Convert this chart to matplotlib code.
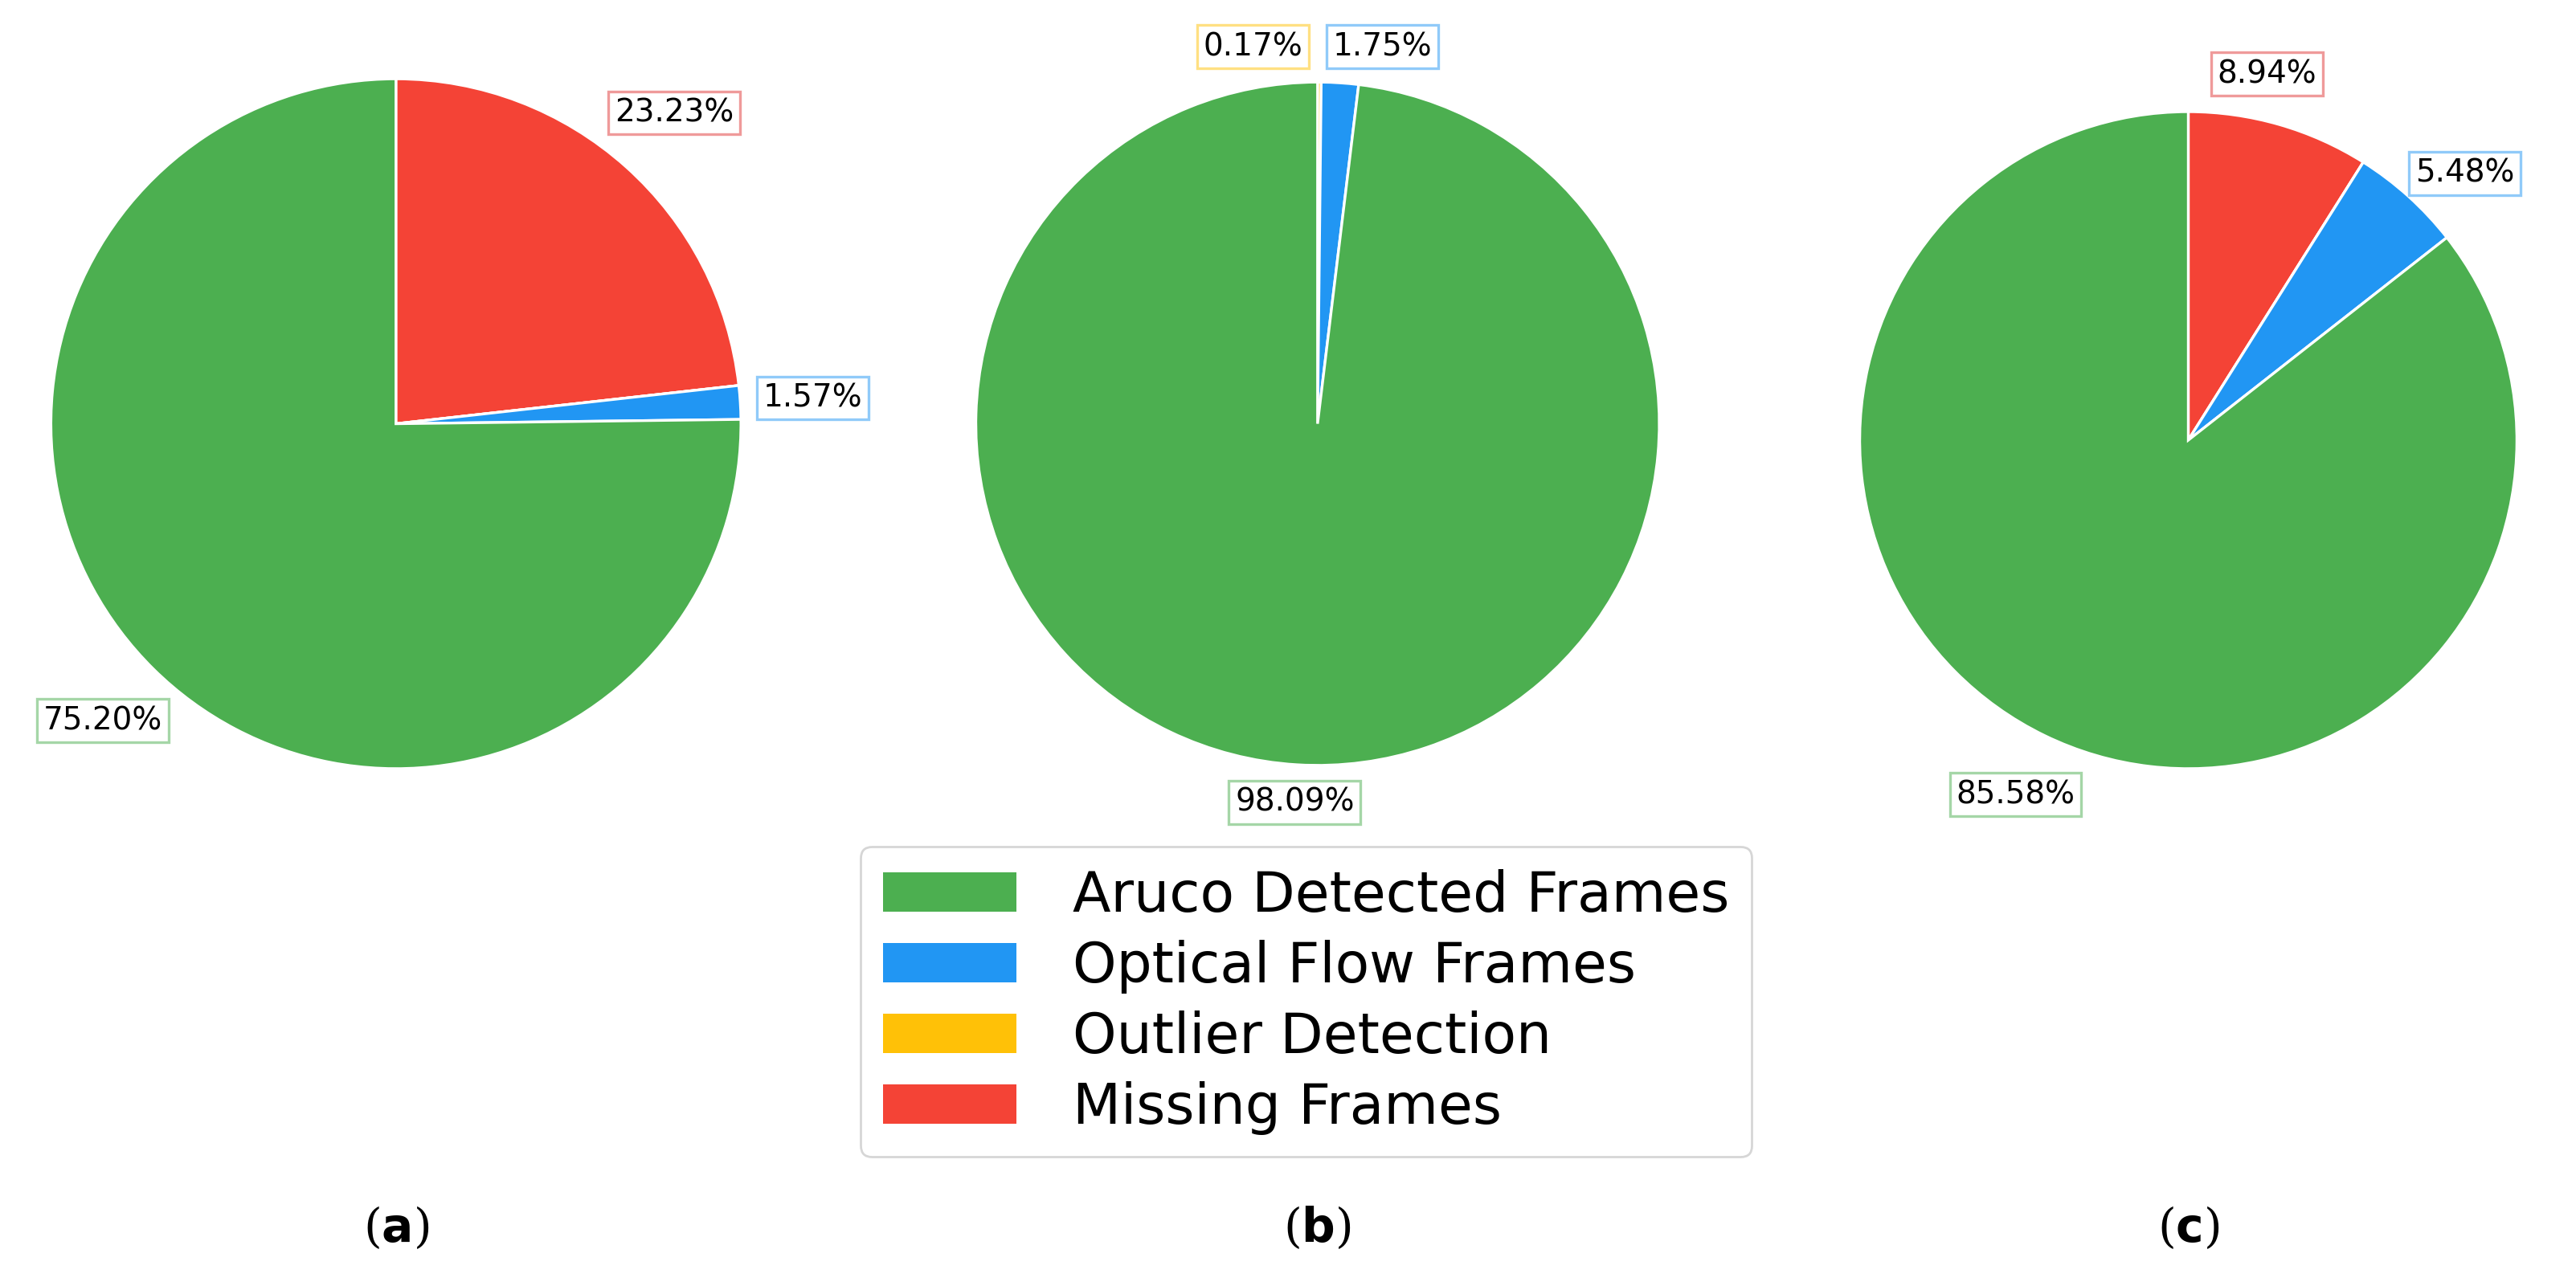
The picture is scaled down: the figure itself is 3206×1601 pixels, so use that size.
import numpy as np
import matplotlib.pyplot as plt
from matplotlib.patches import Patch

labels = ['Aruco Detected Frames', 'Optical Flow Frames', 'Outlier Detection', 'Missing Frames']
colors = ['#4caf50', '#2196f3', '#ffc107', '#f44336']
edge_colors = ['#a5d6a7', '#90caf9', '#ffe082', '#ef9a9a']

# clockwise order from top: Missing, Outlier, Optical, Aruco
order = [3, 2, 1, 0]
data_a = [75.20, 1.57, 0.00, 23.23]
data_b = [98.09, 1.75, 0.17, 0.00]
data_c = [85.58, 5.48, 0.00, 8.94]
panel_names = ['a', 'b', 'c']

W, H = 1568, 783  # reference display coordinates
fig = plt.figure(figsize=(16.03, 8.005), dpi=200)

# (center x, center y, radius) in display pixels
geom = [(241, 258, 210), (802, 258, 208), (1332, 268, 200)]
# label angle shifts (deg) for crowded labels
shifts = [{}, {2: 10, 1: -6}, {1: -4, 3: 4}]
dists = [{}, {2: 1.12, 1: 1.12, 0: 1.11}, {3: 1.14, 1: 1.17, 0: 1.2}]

for k, data in enumerate([data_a, data_b, data_c]):
    cx, cy, r = geom[k]
    half = 1.3 * r
    ax = fig.add_axes([(cx - half) / W, 1 - (cy + half) / H, 2 * half / W, 2 * half / H])
    vals = [data[i] for i in order]
    cols = [colors[i] for i in order]
    wedges, _ = ax.pie(vals, colors=cols, startangle=90, counterclock=False,
                       wedgeprops=dict(edgecolor='white', linewidth=1.2))
    ax.set_xlim(-1.3, 1.3)
    ax.set_ylim(-1.3, 1.3)
    ax.set_aspect('equal')
    ax.axis('off')
    for w, i in zip(wedges, order):
        if data[i] <= 0:
            continue
        ang = np.deg2rad((w.theta1 + w.theta2) / 2 + shifts[k].get(i, 0))
        d = dists[k].get(i, 1.21)
        ax.text(d * np.cos(ang), d * np.sin(ang), f'{data[i]:.2f}%', ha='center', va='center',
                fontsize=14, bbox=dict(boxstyle='square,pad=0.2', fc='white', ec=edge_colors[i], lw=1.2))
    fig.text(cx / W, 1 - 748 / H, rf'($\mathbf{{{panel_names[k]}}}$)', ha='center', va='center',
             fontsize=21, family='DejaVu Serif')

handles = [Patch(facecolor=c) for c in colors]
fig.legend(handles, labels, loc='center', bbox_to_anchor=(795 / W, 1 - 610 / H), fontsize=25,
           handlelength=2.4, handleheight=0.7, handletextpad=1.0, labelspacing=0.3,
           frameon=True, edgecolor='#cccccc', fancybox=True)

fig.savefig('out.png', dpi=200, facecolor='white')
